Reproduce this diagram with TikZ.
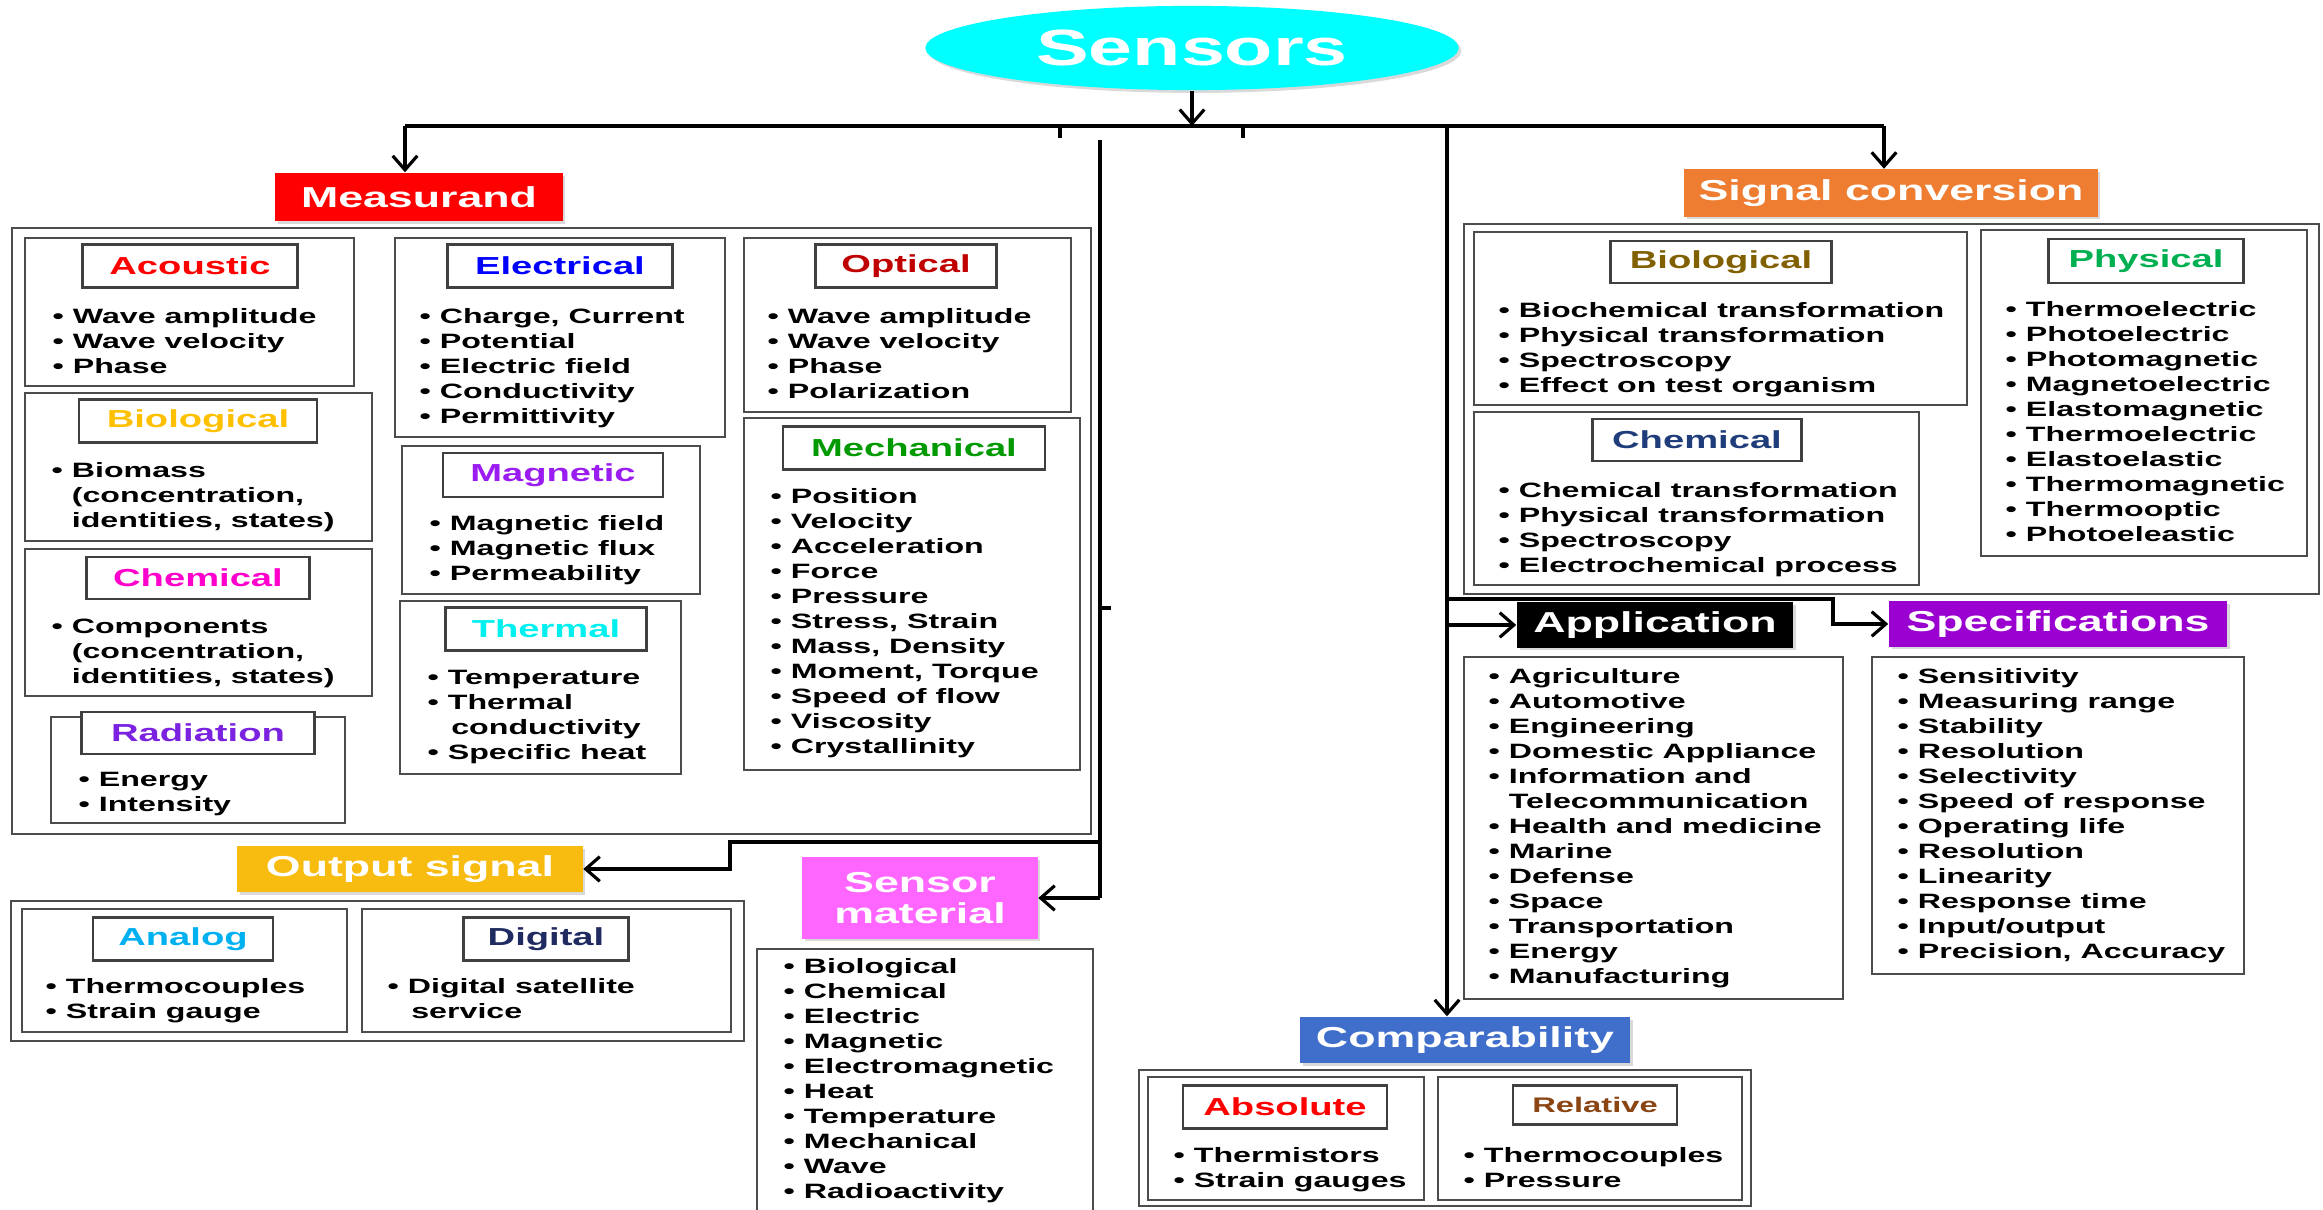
\documentclass[tikz,border=0pt]{standalone}
\usepackage{fontspec}
\setmainfont{Liberation Sans}[FakeStretch=1.55]
\usetikzlibrary{shapes.geometric,shadows,arrows.meta}

\definecolor{sensorcyan}{HTML}{00FFFF}
\definecolor{measred}{HTML}{FF0000}
\definecolor{sigorange}{HTML}{EE7D31}
\definecolor{specpurple}{HTML}{9A00CF}
\definecolor{compblue}{HTML}{3F6FCB}
\definecolor{outyellow}{HTML}{F8BC10}
\definecolor{matpink}{HTML}{FF66FF}
\definecolor{optred}{HTML}{C00000}
\definecolor{biogold}{HTML}{FFC000}
\definecolor{magviolet}{HTML}{9A1CF0}
\definecolor{chempink}{HTML}{FF00CC}
\definecolor{mechgreen}{HTML}{009A00}
\definecolor{thermcyan}{HTML}{00F0F0}
\definecolor{radviolet}{HTML}{7A22E0}
\definecolor{bioolive}{HTML}{806000}
\definecolor{physgreen}{HTML}{00B050}
\definecolor{chemnavy}{HTML}{1F3D7A}
\definecolor{analogblue}{HTML}{00B0F0}
\definecolor{digitalnavy}{HTML}{1F2A60}
\definecolor{relbrown}{HTML}{8B4513}

\begin{document}
\begin{tikzpicture}[x=0.01cm, y=-0.01cm, >={Straight Barb[length=4pt,width=7pt]},
    frame/.style={draw=black!70, line width=0.7pt},
    cat/.style={draw=black!75, line width=0.7pt, fill=white, inner sep=0pt,
        font=\fontsize{7}{8}\selectfont\bfseries},
    items/.style={anchor=north west, align=left, inner sep=0pt,
        font=\fontsize{5.9}{7.11}\selectfont\bfseries},
    head/.style={text=white, inner sep=0pt, font=\fontsize{8.2}{9.5}\selectfont\bfseries,
        drop shadow={shadow xshift=0.8pt, shadow yshift=-0.8pt, opacity=0.3}},
    link/.style={line width=0.9pt}]
    \useasboundingbox (0,0) rectangle (2323,1210);

    % Root
    \node[ellipse, fill=sensorcyan, minimum width=5.33cm, minimum height=0.82cm,
        text=white, font=\fontsize{14.5}{16}\selectfont\bfseries,
        drop shadow={shadow xshift=0.8pt, shadow yshift=-0.8pt, opacity=0.3}]
        (sensors) at (1192,48) {Sensors};

    % Headers
    \node[head, fill=measred, minimum width=2.87cm, minimum height=0.48cm] (measurand) at (419,197) {Measurand};
    \node[head, fill=sigorange, minimum width=4.13cm, minimum height=0.47cm] (sigconv) at (1891,193) {Signal conversion};
    \node[head, fill=black, minimum width=2.76cm, minimum height=0.45cm] (app) at (1655,625) {Application};
    \node[head, fill=specpurple, minimum width=3.38cm, minimum height=0.45cm] (spec) at (2058,624) {Specifications};
    \node[head, fill=compblue, minimum width=3.30cm, minimum height=0.46cm] (compar) at (1465,1040) {Comparability};
    \node[head, fill=outyellow, minimum width=3.45cm, minimum height=0.46cm] (output) at (410,869) {Output signal};
    \node[head, fill=matpink, minimum width=2.35cm, minimum height=0.81cm, align=center,
        font=\fontsize{8.2}{8.8}\selectfont\bfseries] (material) at (920,898) {Sensor\\material};

    % Connectors
    \coordinate (busL) at (405,126);
    \coordinate (busR) at (1884,126);
    \coordinate (trunkA) at (1100,140);
    \coordinate (trunkB) at (1447,126);
    \draw[link] (busL) -- (busR);
    \draw[link,->] (sensors.south) -- (sensors.south |- busL);
    \draw[link,->] (busL) -- (busL |- measurand.north);
    \draw[link,->] (busR) -- (busR |- sigconv.north);
    \draw[link] (1060,126) -- (1060,138);
    \draw[link] (1243,126) -- (1243,138);
    \draw[link] (trunkA) -- (trunkA |- material.east);
    \draw[link] (1100,608) -- (1111,608);
    \draw[link,->] (1100,842) -- (730,842) -- (730,869) -- (output.east);
    \draw[link,->] (trunkA |- material.east) -- (material.east);
    \draw[link,->] (trunkB) -- (trunkB |- compar.north);
    \draw[link,->] (trunkB |- app.west) -- (app.west);
    \draw[link,->] (1447,599) -- (1833,599) -- (1833,624) -- (spec.west);

    % Measurand frames
    \draw[frame] (12,228) rectangle (1091,834);
    \draw[frame] (25,238) rectangle (354,386);
    \draw[frame] (395,238) rectangle (725,437);
    \draw[frame] (744,238) rectangle (1071,412);
    \draw[frame] (25,393) rectangle (372,541);
    \draw[frame] (25,549) rectangle (372,696);
    \draw[frame] (51,717) rectangle (345,823);
    \draw[frame] (402,446) rectangle (700,594);
    \draw[frame] (400,601) rectangle (681,774);
    \draw[frame] (744,418) rectangle (1080,770);

    \node[cat, text=measred, minimum width=2.15cm, minimum height=0.43cm] (acoustic) at (190,266) {Acoustic};
    \node[cat, text=blue, minimum width=2.25cm, minimum height=0.43cm] (electrical) at (560,266) {Electrical};
    \node[cat, text=optred, minimum width=1.81cm, minimum height=0.43cm] (optical) at (906,266) {Optical};
    \node[cat, text=biogold, minimum width=2.38cm, minimum height=0.43cm] (biomeas) at (198,421) {Biological};
    \node[cat, text=chempink, minimum width=2.23cm, minimum height=0.42cm] (chemmeas) at (198,578) {Chemical};
    \node[cat, text=radviolet, minimum width=2.33cm, minimum height=0.42cm] (radiation) at (198,733) {Radiation};
    \node[cat, text=magviolet, minimum width=2.20cm, minimum height=0.44cm] (magnetic) at (553,475) {Magnetic};
    \node[cat, text=thermcyan, minimum width=2.01cm, minimum height=0.43cm] (thermal) at (546,629) {Thermal};
    \node[cat, text=mechgreen, minimum width=2.62cm, minimum height=0.43cm] (mechanical) at (914,448) {Mechanical};

    \node[items] (acousticlist) at (52,308) {\textbullet\ Wave amplitude\\\textbullet\ Wave velocity\\\textbullet\ Phase};
    \node[items] (electricallist) at (419,308) {\textbullet\ Charge, Current\\\textbullet\ Potential\\\textbullet\ Electric field\\\textbullet\ Conductivity\\\textbullet\ Permittivity};
    \node[items] (opticallist) at (767,308) {\textbullet\ Wave amplitude\\\textbullet\ Wave velocity\\\textbullet\ Phase\\\textbullet\ Polarization};
    \node[items] (biomeaslist) at (51,462) {\textbullet\ Biomass\\\phantom{\textbullet\ }(concentration,\\\phantom{\textbullet\ }identities, states)};
    \node[items] (chemmeaslist) at (51,618) {\textbullet\ Components\\\phantom{\textbullet\ }(concentration,\\\phantom{\textbullet\ }identities, states)};
    \node[items] (radiationlist) at (78,772) {\textbullet\ Energy\\\textbullet\ Intensity};
    \node[items] (magneticlist) at (429,515) {\textbullet\ Magnetic field\\\textbullet\ Magnetic flux\\\textbullet\ Permeability};
    \node[items] (thermallist) at (427,670) {\textbullet\ Temperature\\\textbullet\ Thermal\\\phantom{\textbullet\ }\,conductivity\\\textbullet\ Specific heat};
    \node[items] (mechanicallist) at (770,488) {\textbullet\ Position\\\textbullet\ Velocity\\\textbullet\ Acceleration\\\textbullet\ Force\\\textbullet\ Pressure\\\textbullet\ Stress, Strain\\\textbullet\ Mass, Density\\\textbullet\ Moment, Torque\\\textbullet\ Speed of flow\\\textbullet\ Viscosity\\\textbullet\ Crystallinity};

    % Signal conversion frames
    \draw[frame] (1464,224) rectangle (2319,594);
    \draw[frame] (1474,232) rectangle (1967,405);
    \draw[frame] (1981,230) rectangle (2307,556);
    \draw[frame] (1474,412) rectangle (1919,585);

    \node[cat, text=bioolive, minimum width=2.21cm, minimum height=0.42cm] (biosig) at (1721,262) {Biological};
    \node[cat, text=physgreen, minimum width=1.95cm, minimum height=0.44cm] (physical) at (2146,261) {Physical};
    \node[cat, text=chemnavy, minimum width=2.09cm, minimum height=0.42cm] (chemsig) at (1697,440) {Chemical};

    \node[items] (biosiglist) at (1498,302) {\textbullet\ Biochemical transformation\\\textbullet\ Physical transformation\\\textbullet\ Spectroscopy\\\textbullet\ Effect on test organism};
    \node[items] (physicallist) at (2005,301) {\textbullet\ Thermoelectric\\\textbullet\ Photoelectric\\\textbullet\ Photomagnetic\\\textbullet\ Magnetoelectric\\\textbullet\ Elastomagnetic\\\textbullet\ Thermoelectric\\\textbullet\ Elastoelastic\\\textbullet\ Thermomagnetic\\\textbullet\ Thermooptic\\\textbullet\ Photoeleastic};
    \node[items] (chemsiglist) at (1498,482) {\textbullet\ Chemical transformation\\\textbullet\ Physical transformation\\\textbullet\ Spectroscopy\\\textbullet\ Electrochemical process};

    % Application and specifications
    \draw[frame] (1464,657) rectangle (1843,999);
    \draw[frame] (1872,657) rectangle (2244,974);
    \node[items] (applist) at (1488,668) {\textbullet\ Agriculture\\\textbullet\ Automotive\\\textbullet\ Engineering\\\textbullet\ Domestic Appliance\\\textbullet\ Information and\\\phantom{\textbullet\ }Telecommunication\\\textbullet\ Health and medicine\\\textbullet\ Marine\\\textbullet\ Defense\\\textbullet\ Space\\\textbullet\ Transportation\\\textbullet\ Energy\\\textbullet\ Manufacturing};
    \node[items] (speclist) at (1897,668) {\textbullet\ Sensitivity\\\textbullet\ Measuring range\\\textbullet\ Stability\\\textbullet\ Resolution\\\textbullet\ Selectivity\\\textbullet\ Speed of response\\\textbullet\ Operating life\\\textbullet\ Resolution\\\textbullet\ Linearity\\\textbullet\ Response time\\\textbullet\ Input/output\\\textbullet\ Precision, Accuracy};

    % Output signal
    \draw[frame] (11,901) rectangle (744,1041);
    \draw[frame] (22,909) rectangle (347,1032);
    \draw[frame] (362,909) rectangle (731,1032);
    \node[cat, text=analogblue, minimum width=1.80cm, minimum height=0.43cm] (analog) at (183,939) {Analog};
    \node[cat, text=digitalnavy, minimum width=1.65cm, minimum height=0.43cm] (digital) at (546,939) {Digital};
    \node[items] (analoglist) at (45,978) {\textbullet\ Thermocouples\\\textbullet\ Strain gauge};
    \node[items] (digitallist) at (387,978) {\textbullet\ Digital satellite\\\phantom{\textbullet\ }\,service};

    % Sensor material
    \draw[frame] (757,1212) -- (757,949) -- (1093,949) -- (1093,1212);
    \node[items] (materiallist) at (783,958) {\textbullet\ Biological\\\textbullet\ Chemical\\\textbullet\ Electric\\\textbullet\ Magnetic\\\textbullet\ Electromagnetic\\\textbullet\ Heat\\\textbullet\ Temperature\\\textbullet\ Mechanical\\\textbullet\ Wave\\\textbullet\ Radioactivity};

    % Comparability
    \draw[frame] (1139,1070) rectangle (1751,1206);
    \draw[frame] (1148,1077) rectangle (1424,1200);
    \draw[frame] (1438,1077) rectangle (1742,1200);
    \node[cat, text=measred, minimum width=2.04cm, minimum height=0.43cm] (absolute) at (1285,1107) {Absolute};
    \node[cat, text=relbrown, minimum width=1.64cm, minimum height=0.39cm,
        font=\fontsize{6}{7}\selectfont\bfseries] (relative) at (1595,1105) {Relative};
    \node[items] (absolutelist) at (1173,1147) {\textbullet\ Thermistors\\\textbullet\ Strain gauges};
    \node[items] (relativelist) at (1463,1147) {\textbullet\ Thermocouples\\\textbullet\ Pressure};
\end{tikzpicture}
\end{document}
